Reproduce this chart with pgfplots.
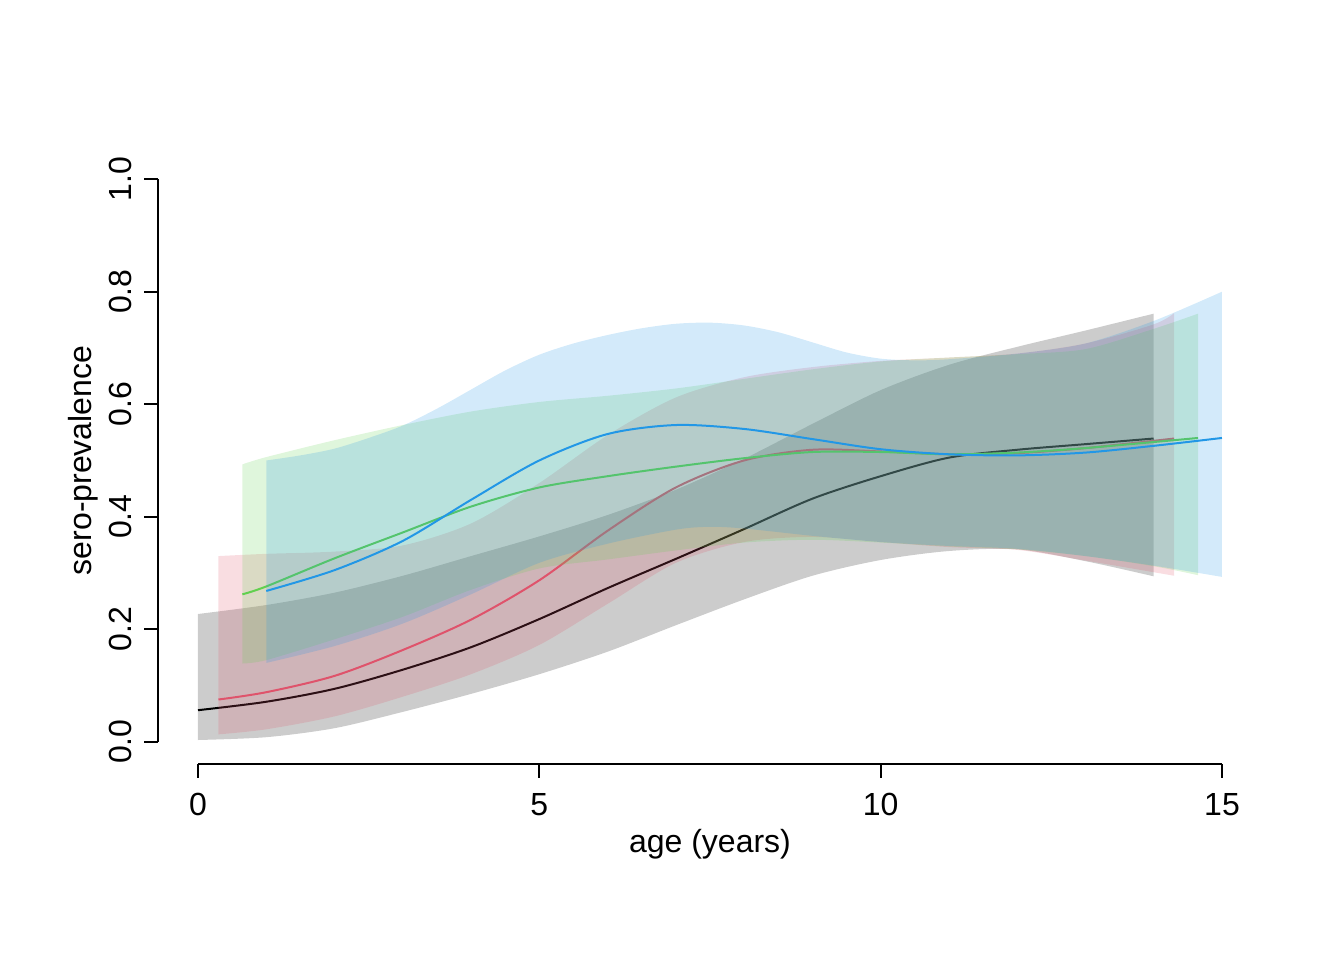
\documentclass[border=0pt]{standalone}
\usepackage{pgfplots}
\pgfplotsset{compat=1.18}
\usepgfplotslibrary{fillbetween}
\usepackage{fontspec}
\setmainfont{Liberation Sans}

\definecolor{rblack}{HTML}{000000}
\definecolor{rred}{HTML}{DF536B}
\definecolor{rgreen}{HTML}{61D04F}
\definecolor{rblue}{HTML}{2297E6}

\begin{document}
\fontsize{12pt}{14pt}\selectfont
% 1 px = 0.375pt (7in x 5in at 192 dpi)
\begin{tikzpicture}[x=0.375pt,y=0.375pt]
\path (0,0) rectangle (1344,960);
\begin{axis}[
    at={(58.89pt,73.43pt)}, anchor=south west,
    scale only axis, width=414.7pt, height=227.8pt,
    xmin=-0.6, xmax=15.6, ymin=-0.04, ymax=1.04,
    axis lines=none, set layers, clip=false,
    fill between/on layer=main,
    no markers,
    band/.style={draw=none, smooth, forget plot},
    curve/.style={line width=0.75pt, smooth},
  ]
  % black model
  \addplot[band, name path=ku] coordinates {
    (0,0.227) (1,0.243) (2,0.265) (3,0.295) (4,0.330) (5,0.365) (6,0.403)
    (7,0.448) (8,0.503) (9,0.565) (10,0.625) (11,0.670) (12,0.702) (13,0.731) (14,0.761)};
  \addplot[band, name path=kl] coordinates {
    (0,0.003) (1,0.008) (2,0.024) (3,0.053) (4,0.085) (5,0.120) (6,0.160)
    (7,0.207) (8,0.253) (9,0.295) (10,0.323) (11,0.339) (12,0.342) (13,0.321) (14,0.294)};
  \addplot[fill=rblack, fill opacity=0.2, draw=none] fill between[of=ku and kl];
  \addplot[curve, rblack] coordinates {
    (0,0.056) (1,0.071) (2,0.094) (3,0.128) (4,0.168) (5,0.218) (6,0.273)
    (7,0.325) (8,0.378) (9,0.432) (10,0.472) (11,0.505) (12,0.519) (13,0.529) (14,0.539)};

  % red model
  \addplot[band, name path=ru] coordinates {
    (0.3,0.330) (1,0.334) (2,0.338) (3,0.349) (4,0.388) (5,0.460) (6,0.545)
    (7,0.612) (8,0.648) (9,0.666) (10,0.677) (11,0.683) (12,0.690) (13,0.708) (14,0.742) (14.3,0.762)};
  \addplot[band, name path=rl] coordinates {
    (0.3,0.013) (1,0.022) (2,0.045) (3,0.080) (4,0.120) (5,0.172) (6,0.245)
    (7,0.318) (8,0.355) (9,0.364) (10,0.355) (11,0.346) (12,0.341) (13,0.322) (14.3,0.295)};
  \addplot[fill=rred, fill opacity=0.2, draw=none] fill between[of=ru and rl];
  \addplot[curve, rred] coordinates {
    (0.3,0.075) (1,0.088) (2,0.117) (3,0.163) (4,0.217) (5,0.287) (6,0.375)
    (7,0.452) (8,0.500) (9,0.519) (10,0.516) (11,0.511) (12,0.513) (13,0.522) (14.3,0.539)};

  % green model
  \addplot[band, name path=gu] coordinates {
    (0.65,0.493) (1,0.506) (2,0.536) (3,0.563) (4,0.587) (5,0.604) (6,0.615)
    (7,0.628) (8,0.645) (9,0.662) (10,0.676) (11,0.683) (12,0.689) (13,0.698) (14,0.734) (14.65,0.761)};
  \addplot[band, name path=gl] coordinates {
    (0.65,0.139) (1,0.145) (2,0.182) (3,0.222) (4,0.270) (5,0.308) (6,0.324)
    (7,0.340) (8,0.354) (9,0.359) (10,0.354) (11,0.347) (12,0.342) (13,0.330) (14,0.312) (14.65,0.296)};
  \addplot[fill=rgreen, fill opacity=0.2, draw=none] fill between[of=gu and gl];
  \addplot[curve, rgreen] coordinates {
    (0.65,0.262) (1,0.276) (2,0.326) (3,0.372) (4,0.418) (5,0.452) (6,0.472)
    (7,0.489) (8,0.504) (9,0.515) (10,0.515) (11,0.511) (12,0.514) (13,0.522) (14.65,0.540)};

  % blue model
  \addplot[band, name path=bu] coordinates {
    (1,0.500) (1.5,0.509) (2,0.521) (2.5,0.540) (3,0.562) (3.5,0.592) (4,0.626)
    (4.5,0.660) (5,0.688) (5.5,0.708) (6,0.723) (6.5,0.735) (7,0.743) (7.5,0.745)
    (8,0.740) (8.5,0.728) (9,0.710) (9.5,0.692) (10,0.681) (10.5,0.678) (11,0.680)
    (12,0.690) (13,0.708) (14,0.748) (15,0.800)};
  \addplot[band, name path=bl] coordinates {
    (1,0.140) (2,0.170) (3,0.210) (4,0.262) (5,0.318) (6,0.352) (7,0.377)
    (7.5,0.382) (8,0.379) (9,0.366) (10,0.355) (11,0.348) (12,0.343) (13,0.330) (14,0.313) (15,0.293)};
  \addplot[fill=rblue, fill opacity=0.2, draw=none] fill between[of=bu and bl];
  \addplot[curve, rblue] coordinates {
    (1,0.268) (2,0.305) (3,0.357) (4,0.430) (5,0.500) (6,0.547) (7,0.563)
    (8,0.556) (9,0.538) (10,0.520) (11,0.511) (12,0.509) (13,0.514) (14,0.526) (15,0.540)};
\end{axis}

% axes drawn R-style, detached from the plot region
\draw[line width=0.75pt] (198,196) -- (1222,196);
\foreach \v/\px in {0/198, 5/539.35, 10/880.7, 15/1222} {
  \draw[line width=0.75pt] (\px,196) -- (\px,182);
  \node[anchor=base, inner sep=0pt] at (\px,145) {\v};
}
\node[anchor=base, inner sep=0pt] at (710,108) {age (years)};

\draw[line width=0.75pt] (157.5,218.3) -- (157.5,780.8);
\foreach \lab/\py in {0.0/218.3, 0.2/330.8, 0.4/443.3, 0.6/555.8, 0.8/668.3, 1.0/780.8} {
  \draw[line width=0.75pt] (157.5,\py) -- (143.5,\py);
  \node[rotate=90, anchor=base, inner sep=0pt] at (131,\py) {\lab};
}
\node[rotate=90, anchor=base, inner sep=0pt] at (91,499.5) {sero-prevalence};
\end{tikzpicture}
\end{document}
